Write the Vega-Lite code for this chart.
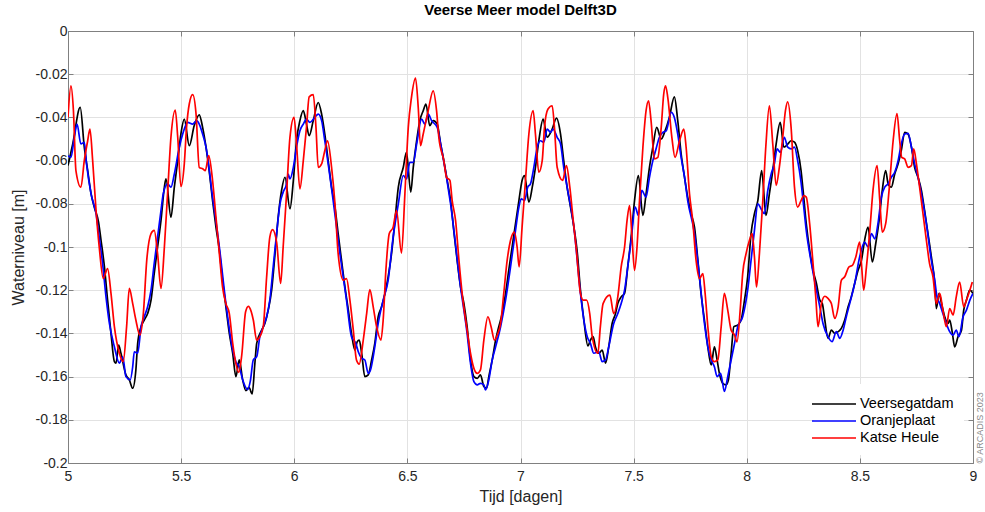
{
"$schema": "https://vega.github.io/schema/vega-lite/v6.json",
"width": 905, "height": 432,
"autosize": {"type": "none"},
"padding": {"left": 68, "top": 31, "right": 12, "bottom": 49},
"background": "white",
"config": {"view": {"stroke": null}, "font": "Liberation Sans"},
"title": {"text": "Veerse Meer model Delft3D", "fontSize": 15, "fontWeight": "bold", "font": "Liberation Sans", "color": "#000000", "offset": 6, "anchor": "middle"},
"layer": [
{
"data": {"values": [
{"t":5.0,"v":-0.0623,"s":"Veersegatdam"},{"t":5.021,"v":-0.0523,"s":"Veersegatdam"},{"t":5.054,"v":-0.0354,"s":"Veersegatdam"},{"t":5.072,"v":-0.0538,"s":"Veersegatdam"},{"t":5.087,"v":-0.0646,"s":"Veersegatdam"},{"t":5.102,"v":-0.0754,"s":"Veersegatdam"},{"t":5.116,"v":-0.0815,"s":"Veersegatdam"},{"t":5.135,"v":-0.0885,"s":"Veersegatdam"},{"t":5.146,"v":-0.0969,"s":"Veersegatdam"},{"t":5.161,"v":-0.1092,"s":"Veersegatdam"},{"t":5.175,"v":-0.1246,"s":"Veersegatdam"},{"t":5.19,"v":-0.140,"s":"Veersegatdam"},{"t":5.205,"v":-0.1531,"s":"Veersegatdam"},{"t":5.212,"v":-0.1538,"s":"Veersegatdam"},{"t":5.224,"v":-0.1454,"s":"Veersegatdam"},{"t":5.234,"v":-0.1492,"s":"Veersegatdam"},{"t":5.256,"v":-0.1592,"s":"Veersegatdam"},{"t":5.271,"v":-0.1615,"s":"Veersegatdam"},{"t":5.286,"v":-0.1654,"s":"Veersegatdam"},{"t":5.3,"v":-0.1569,"s":"Veersegatdam"},{"t":5.308,"v":-0.1446,"s":"Veersegatdam"},{"t":5.323,"v":-0.1369,"s":"Veersegatdam"},{"t":5.337,"v":-0.1338,"s":"Veersegatdam"},{"t":5.352,"v":-0.1308,"s":"Veersegatdam"},{"t":5.367,"v":-0.1246,"s":"Veersegatdam"},{"t":5.381,"v":-0.1123,"s":"Veersegatdam"},{"t":5.396,"v":-0.100,"s":"Veersegatdam"},{"t":5.411,"v":-0.0877,"s":"Veersegatdam"},{"t":5.426,"v":-0.0723,"s":"Veersegatdam"},{"t":5.433,"v":-0.0685,"s":"Veersegatdam"},{"t":5.455,"v":-0.0862,"s":"Veersegatdam"},{"t":5.47,"v":-0.0723,"s":"Veersegatdam"},{"t":5.485,"v":-0.060,"s":"Veersegatdam"},{"t":5.499,"v":-0.0477,"s":"Veersegatdam"},{"t":5.514,"v":-0.0408,"s":"Veersegatdam"},{"t":5.536,"v":-0.0531,"s":"Veersegatdam"},{"t":5.558,"v":-0.0438,"s":"Veersegatdam"},{"t":5.58,"v":-0.0388,"s":"Veersegatdam"},{"t":5.595,"v":-0.0446,"s":"Veersegatdam"},{"t":5.61,"v":-0.0538,"s":"Veersegatdam"},{"t":5.624,"v":-0.0646,"s":"Veersegatdam"},{"t":5.639,"v":-0.0785,"s":"Veersegatdam"},{"t":5.654,"v":-0.0908,"s":"Veersegatdam"},{"t":5.669,"v":-0.1015,"s":"Veersegatdam"},{"t":5.683,"v":-0.1154,"s":"Veersegatdam"},{"t":5.698,"v":-0.1277,"s":"Veersegatdam"},{"t":5.713,"v":-0.140,"s":"Veersegatdam"},{"t":5.728,"v":-0.1492,"s":"Veersegatdam"},{"t":5.742,"v":-0.160,"s":"Veersegatdam"},{"t":5.757,"v":-0.1523,"s":"Veersegatdam"},{"t":5.772,"v":-0.1615,"s":"Veersegatdam"},{"t":5.786,"v":-0.1665,"s":"Veersegatdam"},{"t":5.8,"v":-0.165,"s":"Veersegatdam"},{"t":5.814,"v":-0.168,"s":"Veersegatdam"},{"t":5.826,"v":-0.1538,"s":"Veersegatdam"},{"t":5.834,"v":-0.1446,"s":"Veersegatdam"},{"t":5.856,"v":-0.1385,"s":"Veersegatdam"},{"t":5.87,"v":-0.1354,"s":"Veersegatdam"},{"t":5.885,"v":-0.1292,"s":"Veersegatdam"},{"t":5.9,"v":-0.120,"s":"Veersegatdam"},{"t":5.915,"v":-0.1031,"s":"Veersegatdam"},{"t":5.929,"v":-0.0862,"s":"Veersegatdam"},{"t":5.944,"v":-0.0738,"s":"Veersegatdam"},{"t":5.959,"v":-0.0677,"s":"Veersegatdam"},{"t":5.981,"v":-0.0823,"s":"Veersegatdam"},{"t":5.996,"v":-0.0692,"s":"Veersegatdam"},{"t":6.01,"v":-0.0508,"s":"Veersegatdam"},{"t":6.025,"v":-0.0415,"s":"Veersegatdam"},{"t":6.04,"v":-0.0369,"s":"Veersegatdam"},{"t":6.054,"v":-0.0431,"s":"Veersegatdam"},{"t":6.066,"v":-0.0485,"s":"Veersegatdam"},{"t":6.084,"v":-0.0415,"s":"Veersegatdam"},{"t":6.106,"v":-0.0331,"s":"Veersegatdam"},{"t":6.121,"v":-0.0385,"s":"Veersegatdam"},{"t":6.135,"v":-0.0477,"s":"Veersegatdam"},{"t":6.15,"v":-0.060,"s":"Veersegatdam"},{"t":6.165,"v":-0.0723,"s":"Veersegatdam"},{"t":6.18,"v":-0.0815,"s":"Veersegatdam"},{"t":6.194,"v":-0.0938,"s":"Veersegatdam"},{"t":6.209,"v":-0.1062,"s":"Veersegatdam"},{"t":6.224,"v":-0.1185,"s":"Veersegatdam"},{"t":6.239,"v":-0.1292,"s":"Veersegatdam"},{"t":6.253,"v":-0.140,"s":"Veersegatdam"},{"t":6.268,"v":-0.1477,"s":"Veersegatdam"},{"t":6.278,"v":-0.1439,"s":"Veersegatdam"},{"t":6.287,"v":-0.1431,"s":"Veersegatdam"},{"t":6.298,"v":-0.1492,"s":"Veersegatdam"},{"t":6.312,"v":-0.160,"s":"Veersegatdam"},{"t":6.327,"v":-0.1592,"s":"Veersegatdam"},{"t":6.342,"v":-0.1523,"s":"Veersegatdam"},{"t":6.356,"v":-0.1446,"s":"Veersegatdam"},{"t":6.371,"v":-0.1323,"s":"Veersegatdam"},{"t":6.386,"v":-0.1277,"s":"Veersegatdam"},{"t":6.401,"v":-0.1215,"s":"Veersegatdam"},{"t":6.415,"v":-0.1138,"s":"Veersegatdam"},{"t":6.43,"v":-0.1031,"s":"Veersegatdam"},{"t":6.445,"v":-0.0877,"s":"Veersegatdam"},{"t":6.46,"v":-0.0723,"s":"Veersegatdam"},{"t":6.482,"v":-0.0631,"s":"Veersegatdam"},{"t":6.496,"v":-0.0562,"s":"Veersegatdam"},{"t":6.515,"v":-0.0746,"s":"Veersegatdam"},{"t":6.526,"v":-0.0631,"s":"Veersegatdam"},{"t":6.541,"v":-0.0508,"s":"Veersegatdam"},{"t":6.555,"v":-0.0415,"s":"Veersegatdam"},{"t":6.57,"v":-0.0369,"s":"Veersegatdam"},{"t":6.582,"v":-0.0338,"s":"Veersegatdam"},{"t":6.599,"v":-0.0438,"s":"Veersegatdam"},{"t":6.614,"v":-0.0415,"s":"Veersegatdam"},{"t":6.632,"v":-0.0431,"s":"Veersegatdam"},{"t":6.647,"v":-0.0523,"s":"Veersegatdam"},{"t":6.661,"v":-0.060,"s":"Veersegatdam"},{"t":6.676,"v":-0.0692,"s":"Veersegatdam"},{"t":6.691,"v":-0.0785,"s":"Veersegatdam"},{"t":6.705,"v":-0.0923,"s":"Veersegatdam"},{"t":6.72,"v":-0.1062,"s":"Veersegatdam"},{"t":6.735,"v":-0.1185,"s":"Veersegatdam"},{"t":6.75,"v":-0.1262,"s":"Veersegatdam"},{"t":6.764,"v":-0.1369,"s":"Veersegatdam"},{"t":6.779,"v":-0.1523,"s":"Veersegatdam"},{"t":6.794,"v":-0.160,"s":"Veersegatdam"},{"t":6.809,"v":-0.1608,"s":"Veersegatdam"},{"t":6.823,"v":-0.1592,"s":"Veersegatdam"},{"t":6.838,"v":-0.1646,"s":"Veersegatdam"},{"t":6.85,"v":-0.1654,"s":"Veersegatdam"},{"t":6.86,"v":-0.160,"s":"Veersegatdam"},{"t":6.875,"v":-0.1523,"s":"Veersegatdam"},{"t":6.89,"v":-0.1431,"s":"Veersegatdam"},{"t":6.904,"v":-0.1369,"s":"Veersegatdam"},{"t":6.919,"v":-0.1308,"s":"Veersegatdam"},{"t":6.934,"v":-0.1215,"s":"Veersegatdam"},{"t":6.948,"v":-0.1108,"s":"Veersegatdam"},{"t":6.963,"v":-0.100,"s":"Veersegatdam"},{"t":6.978,"v":-0.0892,"s":"Veersegatdam"},{"t":6.993,"v":-0.0785,"s":"Veersegatdam"},{"t":7.007,"v":-0.0692,"s":"Veersegatdam"},{"t":7.018,"v":-0.0669,"s":"Veersegatdam"},{"t":7.037,"v":-0.0792,"s":"Veersegatdam"},{"t":7.052,"v":-0.0723,"s":"Veersegatdam"},{"t":7.066,"v":-0.0631,"s":"Veersegatdam"},{"t":7.081,"v":-0.0508,"s":"Veersegatdam"},{"t":7.1,"v":-0.0408,"s":"Veersegatdam"},{"t":7.118,"v":-0.0492,"s":"Veersegatdam"},{"t":7.14,"v":-0.0454,"s":"Veersegatdam"},{"t":7.159,"v":-0.0403,"s":"Veersegatdam"},{"t":7.177,"v":-0.0477,"s":"Veersegatdam"},{"t":7.191,"v":-0.060,"s":"Veersegatdam"},{"t":7.206,"v":-0.0723,"s":"Veersegatdam"},{"t":7.221,"v":-0.0815,"s":"Veersegatdam"},{"t":7.236,"v":-0.0908,"s":"Veersegatdam"},{"t":7.25,"v":-0.1015,"s":"Veersegatdam"},{"t":7.265,"v":-0.120,"s":"Veersegatdam"},{"t":7.28,"v":-0.1338,"s":"Veersegatdam"},{"t":7.298,"v":-0.1458,"s":"Veersegatdam"},{"t":7.309,"v":-0.1431,"s":"Veersegatdam"},{"t":7.321,"v":-0.1415,"s":"Veersegatdam"},{"t":7.331,"v":-0.1462,"s":"Veersegatdam"},{"t":7.346,"v":-0.1492,"s":"Veersegatdam"},{"t":7.361,"v":-0.1477,"s":"Veersegatdam"},{"t":7.376,"v":-0.1538,"s":"Veersegatdam"},{"t":7.39,"v":-0.1462,"s":"Veersegatdam"},{"t":7.405,"v":-0.1354,"s":"Veersegatdam"},{"t":7.42,"v":-0.1308,"s":"Veersegatdam"},{"t":7.43,"v":-0.1262,"s":"Veersegatdam"},{"t":7.445,"v":-0.1231,"s":"Veersegatdam"},{"t":7.46,"v":-0.1215,"s":"Veersegatdam"},{"t":7.474,"v":-0.1092,"s":"Veersegatdam"},{"t":7.489,"v":-0.0954,"s":"Veersegatdam"},{"t":7.504,"v":-0.0785,"s":"Veersegatdam"},{"t":7.521,"v":-0.0669,"s":"Veersegatdam"},{"t":7.541,"v":-0.0854,"s":"Veersegatdam"},{"t":7.555,"v":-0.0754,"s":"Veersegatdam"},{"t":7.57,"v":-0.0631,"s":"Veersegatdam"},{"t":7.585,"v":-0.0538,"s":"Veersegatdam"},{"t":7.602,"v":-0.0446,"s":"Veersegatdam"},{"t":7.622,"v":-0.050,"s":"Veersegatdam"},{"t":7.639,"v":-0.0462,"s":"Veersegatdam"},{"t":7.658,"v":-0.040,"s":"Veersegatdam"},{"t":7.68,"v":-0.0305,"s":"Veersegatdam"},{"t":7.695,"v":-0.0415,"s":"Veersegatdam"},{"t":7.71,"v":-0.0569,"s":"Veersegatdam"},{"t":7.725,"v":-0.0677,"s":"Veersegatdam"},{"t":7.739,"v":-0.0769,"s":"Veersegatdam"},{"t":7.754,"v":-0.0846,"s":"Veersegatdam"},{"t":7.769,"v":-0.0908,"s":"Veersegatdam"},{"t":7.784,"v":-0.1062,"s":"Veersegatdam"},{"t":7.798,"v":-0.1215,"s":"Veersegatdam"},{"t":7.813,"v":-0.1338,"s":"Veersegatdam"},{"t":7.828,"v":-0.1462,"s":"Veersegatdam"},{"t":7.843,"v":-0.1546,"s":"Veersegatdam"},{"t":7.857,"v":-0.1462,"s":"Veersegatdam"},{"t":7.869,"v":-0.1523,"s":"Veersegatdam"},{"t":7.879,"v":-0.1585,"s":"Veersegatdam"},{"t":7.894,"v":-0.1631,"s":"Veersegatdam"},{"t":7.909,"v":-0.1638,"s":"Veersegatdam"},{"t":7.919,"v":-0.1615,"s":"Veersegatdam"},{"t":7.931,"v":-0.1492,"s":"Veersegatdam"},{"t":7.943,"v":-0.1369,"s":"Veersegatdam"},{"t":7.96,"v":-0.1362,"s":"Veersegatdam"},{"t":7.975,"v":-0.1338,"s":"Veersegatdam"},{"t":7.99,"v":-0.1246,"s":"Veersegatdam"},{"t":8.004,"v":-0.1138,"s":"Veersegatdam"},{"t":8.019,"v":-0.0938,"s":"Veersegatdam"},{"t":8.034,"v":-0.0846,"s":"Veersegatdam"},{"t":8.049,"v":-0.0785,"s":"Veersegatdam"},{"t":8.066,"v":-0.0646,"s":"Veersegatdam"},{"t":8.085,"v":-0.0854,"s":"Veersegatdam"},{"t":8.1,"v":-0.0754,"s":"Veersegatdam"},{"t":8.115,"v":-0.0646,"s":"Veersegatdam"},{"t":8.13,"v":-0.0523,"s":"Veersegatdam"},{"t":8.148,"v":-0.0423,"s":"Veersegatdam"},{"t":8.164,"v":-0.0538,"s":"Veersegatdam"},{"t":8.182,"v":-0.0523,"s":"Veersegatdam"},{"t":8.196,"v":-0.0508,"s":"Veersegatdam"},{"t":8.211,"v":-0.0515,"s":"Veersegatdam"},{"t":8.225,"v":-0.0554,"s":"Veersegatdam"},{"t":8.24,"v":-0.0646,"s":"Veersegatdam"},{"t":8.249,"v":-0.0738,"s":"Veersegatdam"},{"t":8.263,"v":-0.0892,"s":"Veersegatdam"},{"t":8.278,"v":-0.1015,"s":"Veersegatdam"},{"t":8.293,"v":-0.1108,"s":"Veersegatdam"},{"t":8.308,"v":-0.1169,"s":"Veersegatdam"},{"t":8.323,"v":-0.1246,"s":"Veersegatdam"},{"t":8.334,"v":-0.1262,"s":"Veersegatdam"},{"t":8.345,"v":-0.1338,"s":"Veersegatdam"},{"t":8.359,"v":-0.1423,"s":"Veersegatdam"},{"t":8.374,"v":-0.1385,"s":"Veersegatdam"},{"t":8.389,"v":-0.140,"s":"Veersegatdam"},{"t":8.404,"v":-0.1392,"s":"Veersegatdam"},{"t":8.418,"v":-0.1377,"s":"Veersegatdam"},{"t":8.433,"v":-0.1338,"s":"Veersegatdam"},{"t":8.448,"v":-0.1277,"s":"Veersegatdam"},{"t":8.462,"v":-0.1231,"s":"Veersegatdam"},{"t":8.477,"v":-0.1169,"s":"Veersegatdam"},{"t":8.492,"v":-0.1108,"s":"Veersegatdam"},{"t":8.507,"v":-0.1062,"s":"Veersegatdam"},{"t":8.521,"v":-0.0969,"s":"Veersegatdam"},{"t":8.536,"v":-0.0908,"s":"Veersegatdam"},{"t":8.555,"v":-0.1069,"s":"Veersegatdam"},{"t":8.57,"v":-0.0985,"s":"Veersegatdam"},{"t":8.585,"v":-0.0877,"s":"Veersegatdam"},{"t":8.599,"v":-0.0738,"s":"Veersegatdam"},{"t":8.614,"v":-0.0646,"s":"Veersegatdam"},{"t":8.625,"v":-0.0708,"s":"Veersegatdam"},{"t":8.639,"v":-0.0723,"s":"Veersegatdam"},{"t":8.654,"v":-0.0662,"s":"Veersegatdam"},{"t":8.669,"v":-0.0615,"s":"Veersegatdam"},{"t":8.683,"v":-0.0554,"s":"Veersegatdam"},{"t":8.698,"v":-0.0469,"s":"Veersegatdam"},{"t":8.713,"v":-0.0477,"s":"Veersegatdam"},{"t":8.728,"v":-0.0538,"s":"Veersegatdam"},{"t":8.742,"v":-0.0631,"s":"Veersegatdam"},{"t":8.757,"v":-0.0677,"s":"Veersegatdam"},{"t":8.772,"v":-0.0738,"s":"Veersegatdam"},{"t":8.786,"v":-0.0831,"s":"Veersegatdam"},{"t":8.801,"v":-0.0938,"s":"Veersegatdam"},{"t":8.816,"v":-0.1046,"s":"Veersegatdam"},{"t":8.831,"v":-0.1169,"s":"Veersegatdam"},{"t":8.838,"v":-0.1285,"s":"Veersegatdam"},{"t":8.85,"v":-0.1215,"s":"Veersegatdam"},{"t":8.861,"v":-0.1262,"s":"Veersegatdam"},{"t":8.875,"v":-0.1323,"s":"Veersegatdam"},{"t":8.89,"v":-0.1354,"s":"Veersegatdam"},{"t":8.897,"v":-0.1338,"s":"Veersegatdam"},{"t":8.909,"v":-0.140,"s":"Veersegatdam"},{"t":8.919,"v":-0.1462,"s":"Veersegatdam"},{"t":8.934,"v":-0.1415,"s":"Veersegatdam"},{"t":8.949,"v":-0.1385,"s":"Veersegatdam"},{"t":8.959,"v":-0.1292,"s":"Veersegatdam"},{"t":8.971,"v":-0.1246,"s":"Veersegatdam"},{"t":8.986,"v":-0.120,"s":"Veersegatdam"},{"t":9.0,"v":-0.1215,"s":"Veersegatdam"},
{"t":5.0,"v":-0.0577,"s":"Oranjeplaat"},{"t":5.013,"v":-0.0585,"s":"Oranjeplaat"},{"t":5.028,"v":-0.0492,"s":"Oranjeplaat"},{"t":5.04,"v":-0.0431,"s":"Oranjeplaat"},{"t":5.057,"v":-0.0523,"s":"Oranjeplaat"},{"t":5.072,"v":-0.0515,"s":"Oranjeplaat"},{"t":5.082,"v":-0.0615,"s":"Oranjeplaat"},{"t":5.102,"v":-0.0754,"s":"Oranjeplaat"},{"t":5.124,"v":-0.0846,"s":"Oranjeplaat"},{"t":5.138,"v":-0.0954,"s":"Oranjeplaat"},{"t":5.153,"v":-0.1077,"s":"Oranjeplaat"},{"t":5.168,"v":-0.1231,"s":"Oranjeplaat"},{"t":5.183,"v":-0.1354,"s":"Oranjeplaat"},{"t":5.205,"v":-0.1462,"s":"Oranjeplaat"},{"t":5.227,"v":-0.1538,"s":"Oranjeplaat"},{"t":5.242,"v":-0.1508,"s":"Oranjeplaat"},{"t":5.256,"v":-0.160,"s":"Oranjeplaat"},{"t":5.275,"v":-0.1615,"s":"Oranjeplaat"},{"t":5.286,"v":-0.1554,"s":"Oranjeplaat"},{"t":5.293,"v":-0.1485,"s":"Oranjeplaat"},{"t":5.308,"v":-0.1492,"s":"Oranjeplaat"},{"t":5.323,"v":-0.1369,"s":"Oranjeplaat"},{"t":5.337,"v":-0.1323,"s":"Oranjeplaat"},{"t":5.352,"v":-0.1277,"s":"Oranjeplaat"},{"t":5.367,"v":-0.120,"s":"Oranjeplaat"},{"t":5.381,"v":-0.1077,"s":"Oranjeplaat"},{"t":5.396,"v":-0.0954,"s":"Oranjeplaat"},{"t":5.411,"v":-0.0831,"s":"Oranjeplaat"},{"t":5.421,"v":-0.0754,"s":"Oranjeplaat"},{"t":5.44,"v":-0.0708,"s":"Oranjeplaat"},{"t":5.455,"v":-0.0723,"s":"Oranjeplaat"},{"t":5.47,"v":-0.0662,"s":"Oranjeplaat"},{"t":5.492,"v":-0.0538,"s":"Oranjeplaat"},{"t":5.507,"v":-0.0477,"s":"Oranjeplaat"},{"t":5.529,"v":-0.0423,"s":"Oranjeplaat"},{"t":5.551,"v":-0.0431,"s":"Oranjeplaat"},{"t":5.569,"v":-0.0415,"s":"Oranjeplaat"},{"t":5.58,"v":-0.0431,"s":"Oranjeplaat"},{"t":5.595,"v":-0.0477,"s":"Oranjeplaat"},{"t":5.61,"v":-0.0538,"s":"Oranjeplaat"},{"t":5.639,"v":-0.0769,"s":"Oranjeplaat"},{"t":5.669,"v":-0.100,"s":"Oranjeplaat"},{"t":5.698,"v":-0.1262,"s":"Oranjeplaat"},{"t":5.728,"v":-0.1477,"s":"Oranjeplaat"},{"t":5.742,"v":-0.1531,"s":"Oranjeplaat"},{"t":5.757,"v":-0.1554,"s":"Oranjeplaat"},{"t":5.772,"v":-0.1615,"s":"Oranjeplaat"},{"t":5.794,"v":-0.166,"s":"Oranjeplaat"},{"t":5.806,"v":-0.162,"s":"Oranjeplaat"},{"t":5.819,"v":-0.1523,"s":"Oranjeplaat"},{"t":5.834,"v":-0.1508,"s":"Oranjeplaat"},{"t":5.848,"v":-0.1415,"s":"Oranjeplaat"},{"t":5.863,"v":-0.1369,"s":"Oranjeplaat"},{"t":5.878,"v":-0.1323,"s":"Oranjeplaat"},{"t":5.892,"v":-0.1246,"s":"Oranjeplaat"},{"t":5.907,"v":-0.1092,"s":"Oranjeplaat"},{"t":5.922,"v":-0.0938,"s":"Oranjeplaat"},{"t":5.937,"v":-0.080,"s":"Oranjeplaat"},{"t":5.951,"v":-0.0746,"s":"Oranjeplaat"},{"t":5.966,"v":-0.0708,"s":"Oranjeplaat"},{"t":5.973,"v":-0.0662,"s":"Oranjeplaat"},{"t":5.981,"v":-0.0685,"s":"Oranjeplaat"},{"t":5.996,"v":-0.0631,"s":"Oranjeplaat"},{"t":6.01,"v":-0.0538,"s":"Oranjeplaat"},{"t":6.025,"v":-0.0462,"s":"Oranjeplaat"},{"t":6.04,"v":-0.0431,"s":"Oranjeplaat"},{"t":6.054,"v":-0.0408,"s":"Oranjeplaat"},{"t":6.069,"v":-0.0423,"s":"Oranjeplaat"},{"t":6.091,"v":-0.040,"s":"Oranjeplaat"},{"t":6.106,"v":-0.0385,"s":"Oranjeplaat"},{"t":6.121,"v":-0.0415,"s":"Oranjeplaat"},{"t":6.135,"v":-0.0508,"s":"Oranjeplaat"},{"t":6.172,"v":-0.0785,"s":"Oranjeplaat"},{"t":6.202,"v":-0.1031,"s":"Oranjeplaat"},{"t":6.231,"v":-0.1246,"s":"Oranjeplaat"},{"t":6.253,"v":-0.1415,"s":"Oranjeplaat"},{"t":6.272,"v":-0.1446,"s":"Oranjeplaat"},{"t":6.283,"v":-0.1485,"s":"Oranjeplaat"},{"t":6.298,"v":-0.1515,"s":"Oranjeplaat"},{"t":6.312,"v":-0.1523,"s":"Oranjeplaat"},{"t":6.327,"v":-0.1585,"s":"Oranjeplaat"},{"t":6.337,"v":-0.1569,"s":"Oranjeplaat"},{"t":6.356,"v":-0.1462,"s":"Oranjeplaat"},{"t":6.371,"v":-0.1354,"s":"Oranjeplaat"},{"t":6.393,"v":-0.1246,"s":"Oranjeplaat"},{"t":6.415,"v":-0.1154,"s":"Oranjeplaat"},{"t":6.437,"v":-0.0954,"s":"Oranjeplaat"},{"t":6.46,"v":-0.080,"s":"Oranjeplaat"},{"t":6.482,"v":-0.0669,"s":"Oranjeplaat"},{"t":6.496,"v":-0.0685,"s":"Oranjeplaat"},{"t":6.511,"v":-0.0608,"s":"Oranjeplaat"},{"t":6.526,"v":-0.0608,"s":"Oranjeplaat"},{"t":6.541,"v":-0.0523,"s":"Oranjeplaat"},{"t":6.563,"v":-0.0408,"s":"Oranjeplaat"},{"t":6.577,"v":-0.0431,"s":"Oranjeplaat"},{"t":6.592,"v":-0.0385,"s":"Oranjeplaat"},{"t":6.607,"v":-0.0415,"s":"Oranjeplaat"},{"t":6.632,"v":-0.0446,"s":"Oranjeplaat"},{"t":6.647,"v":-0.0523,"s":"Oranjeplaat"},{"t":6.691,"v":-0.080,"s":"Oranjeplaat"},{"t":6.735,"v":-0.1185,"s":"Oranjeplaat"},{"t":6.764,"v":-0.140,"s":"Oranjeplaat"},{"t":6.779,"v":-0.1538,"s":"Oranjeplaat"},{"t":6.794,"v":-0.1623,"s":"Oranjeplaat"},{"t":6.809,"v":-0.1638,"s":"Oranjeplaat"},{"t":6.823,"v":-0.1631,"s":"Oranjeplaat"},{"t":6.838,"v":-0.1638,"s":"Oranjeplaat"},{"t":6.845,"v":-0.1662,"s":"Oranjeplaat"},{"t":6.86,"v":-0.1615,"s":"Oranjeplaat"},{"t":6.875,"v":-0.1523,"s":"Oranjeplaat"},{"t":6.89,"v":-0.1462,"s":"Oranjeplaat"},{"t":6.912,"v":-0.1369,"s":"Oranjeplaat"},{"t":6.934,"v":-0.1246,"s":"Oranjeplaat"},{"t":6.956,"v":-0.1092,"s":"Oranjeplaat"},{"t":6.978,"v":-0.0923,"s":"Oranjeplaat"},{"t":6.993,"v":-0.0815,"s":"Oranjeplaat"},{"t":7.003,"v":-0.0777,"s":"Oranjeplaat"},{"t":7.018,"v":-0.0785,"s":"Oranjeplaat"},{"t":7.032,"v":-0.0723,"s":"Oranjeplaat"},{"t":7.044,"v":-0.0708,"s":"Oranjeplaat"},{"t":7.059,"v":-0.0631,"s":"Oranjeplaat"},{"t":7.074,"v":-0.0538,"s":"Oranjeplaat"},{"t":7.088,"v":-0.0508,"s":"Oranjeplaat"},{"t":7.103,"v":-0.0515,"s":"Oranjeplaat"},{"t":7.118,"v":-0.0454,"s":"Oranjeplaat"},{"t":7.133,"v":-0.0469,"s":"Oranjeplaat"},{"t":7.144,"v":-0.0454,"s":"Oranjeplaat"},{"t":7.162,"v":-0.0492,"s":"Oranjeplaat"},{"t":7.177,"v":-0.0523,"s":"Oranjeplaat"},{"t":7.191,"v":-0.0631,"s":"Oranjeplaat"},{"t":7.206,"v":-0.0723,"s":"Oranjeplaat"},{"t":7.236,"v":-0.0908,"s":"Oranjeplaat"},{"t":7.265,"v":-0.1215,"s":"Oranjeplaat"},{"t":7.28,"v":-0.1338,"s":"Oranjeplaat"},{"t":7.295,"v":-0.1415,"s":"Oranjeplaat"},{"t":7.309,"v":-0.1446,"s":"Oranjeplaat"},{"t":7.324,"v":-0.1492,"s":"Oranjeplaat"},{"t":7.346,"v":-0.1485,"s":"Oranjeplaat"},{"t":7.361,"v":-0.1531,"s":"Oranjeplaat"},{"t":7.376,"v":-0.1523,"s":"Oranjeplaat"},{"t":7.39,"v":-0.1462,"s":"Oranjeplaat"},{"t":7.412,"v":-0.1354,"s":"Oranjeplaat"},{"t":7.43,"v":-0.1308,"s":"Oranjeplaat"},{"t":7.445,"v":-0.1262,"s":"Oranjeplaat"},{"t":7.46,"v":-0.120,"s":"Oranjeplaat"},{"t":7.474,"v":-0.1092,"s":"Oranjeplaat"},{"t":7.489,"v":-0.0969,"s":"Oranjeplaat"},{"t":7.507,"v":-0.0815,"s":"Oranjeplaat"},{"t":7.521,"v":-0.0854,"s":"Oranjeplaat"},{"t":7.536,"v":-0.0738,"s":"Oranjeplaat"},{"t":7.555,"v":-0.0769,"s":"Oranjeplaat"},{"t":7.57,"v":-0.0677,"s":"Oranjeplaat"},{"t":7.585,"v":-0.060,"s":"Oranjeplaat"},{"t":7.599,"v":-0.0546,"s":"Oranjeplaat"},{"t":7.614,"v":-0.0492,"s":"Oranjeplaat"},{"t":7.629,"v":-0.0469,"s":"Oranjeplaat"},{"t":7.644,"v":-0.0462,"s":"Oranjeplaat"},{"t":7.666,"v":-0.0377,"s":"Oranjeplaat"},{"t":7.68,"v":-0.040,"s":"Oranjeplaat"},{"t":7.695,"v":-0.0477,"s":"Oranjeplaat"},{"t":7.71,"v":-0.0585,"s":"Oranjeplaat"},{"t":7.725,"v":-0.0677,"s":"Oranjeplaat"},{"t":7.739,"v":-0.0785,"s":"Oranjeplaat"},{"t":7.769,"v":-0.0938,"s":"Oranjeplaat"},{"t":7.791,"v":-0.1138,"s":"Oranjeplaat"},{"t":7.813,"v":-0.1354,"s":"Oranjeplaat"},{"t":7.828,"v":-0.1462,"s":"Oranjeplaat"},{"t":7.843,"v":-0.1523,"s":"Oranjeplaat"},{"t":7.857,"v":-0.1554,"s":"Oranjeplaat"},{"t":7.869,"v":-0.160,"s":"Oranjeplaat"},{"t":7.884,"v":-0.1585,"s":"Oranjeplaat"},{"t":7.891,"v":-0.1615,"s":"Oranjeplaat"},{"t":7.901,"v":-0.1669,"s":"Oranjeplaat"},{"t":7.916,"v":-0.160,"s":"Oranjeplaat"},{"t":7.931,"v":-0.1523,"s":"Oranjeplaat"},{"t":7.946,"v":-0.1446,"s":"Oranjeplaat"},{"t":7.96,"v":-0.1369,"s":"Oranjeplaat"},{"t":7.982,"v":-0.1323,"s":"Oranjeplaat"},{"t":8.004,"v":-0.120,"s":"Oranjeplaat"},{"t":8.019,"v":-0.1062,"s":"Oranjeplaat"},{"t":8.034,"v":-0.0923,"s":"Oranjeplaat"},{"t":8.049,"v":-0.080,"s":"Oranjeplaat"},{"t":8.063,"v":-0.0823,"s":"Oranjeplaat"},{"t":8.078,"v":-0.0846,"s":"Oranjeplaat"},{"t":8.093,"v":-0.0738,"s":"Oranjeplaat"},{"t":8.108,"v":-0.0662,"s":"Oranjeplaat"},{"t":8.122,"v":-0.0615,"s":"Oranjeplaat"},{"t":8.134,"v":-0.0546,"s":"Oranjeplaat"},{"t":8.149,"v":-0.0562,"s":"Oranjeplaat"},{"t":8.166,"v":-0.0492,"s":"Oranjeplaat"},{"t":8.181,"v":-0.0538,"s":"Oranjeplaat"},{"t":8.196,"v":-0.0546,"s":"Oranjeplaat"},{"t":8.211,"v":-0.0538,"s":"Oranjeplaat"},{"t":8.225,"v":-0.060,"s":"Oranjeplaat"},{"t":8.24,"v":-0.070,"s":"Oranjeplaat"},{"t":8.249,"v":-0.0785,"s":"Oranjeplaat"},{"t":8.263,"v":-0.0923,"s":"Oranjeplaat"},{"t":8.286,"v":-0.1077,"s":"Oranjeplaat"},{"t":8.308,"v":-0.120,"s":"Oranjeplaat"},{"t":8.323,"v":-0.1277,"s":"Oranjeplaat"},{"t":8.337,"v":-0.1354,"s":"Oranjeplaat"},{"t":8.359,"v":-0.1415,"s":"Oranjeplaat"},{"t":8.377,"v":-0.1438,"s":"Oranjeplaat"},{"t":8.396,"v":-0.1392,"s":"Oranjeplaat"},{"t":8.411,"v":-0.1423,"s":"Oranjeplaat"},{"t":8.426,"v":-0.1385,"s":"Oranjeplaat"},{"t":8.44,"v":-0.1323,"s":"Oranjeplaat"},{"t":8.455,"v":-0.1262,"s":"Oranjeplaat"},{"t":8.477,"v":-0.1169,"s":"Oranjeplaat"},{"t":8.499,"v":-0.1046,"s":"Oranjeplaat"},{"t":8.521,"v":-0.0977,"s":"Oranjeplaat"},{"t":8.536,"v":-0.100,"s":"Oranjeplaat"},{"t":8.551,"v":-0.0938,"s":"Oranjeplaat"},{"t":8.566,"v":-0.0962,"s":"Oranjeplaat"},{"t":8.58,"v":-0.0892,"s":"Oranjeplaat"},{"t":8.595,"v":-0.0769,"s":"Oranjeplaat"},{"t":8.61,"v":-0.0723,"s":"Oranjeplaat"},{"t":8.624,"v":-0.0708,"s":"Oranjeplaat"},{"t":8.639,"v":-0.0677,"s":"Oranjeplaat"},{"t":8.654,"v":-0.0654,"s":"Oranjeplaat"},{"t":8.669,"v":-0.060,"s":"Oranjeplaat"},{"t":8.683,"v":-0.0523,"s":"Oranjeplaat"},{"t":8.698,"v":-0.0477,"s":"Oranjeplaat"},{"t":8.713,"v":-0.0474,"s":"Oranjeplaat"},{"t":8.728,"v":-0.0538,"s":"Oranjeplaat"},{"t":8.742,"v":-0.0615,"s":"Oranjeplaat"},{"t":8.757,"v":-0.0677,"s":"Oranjeplaat"},{"t":8.772,"v":-0.0754,"s":"Oranjeplaat"},{"t":8.794,"v":-0.0892,"s":"Oranjeplaat"},{"t":8.816,"v":-0.1062,"s":"Oranjeplaat"},{"t":8.831,"v":-0.1154,"s":"Oranjeplaat"},{"t":8.841,"v":-0.1231,"s":"Oranjeplaat"},{"t":8.853,"v":-0.1262,"s":"Oranjeplaat"},{"t":8.867,"v":-0.1308,"s":"Oranjeplaat"},{"t":8.882,"v":-0.1354,"s":"Oranjeplaat"},{"t":8.897,"v":-0.1392,"s":"Oranjeplaat"},{"t":8.912,"v":-0.1408,"s":"Oranjeplaat"},{"t":8.926,"v":-0.1385,"s":"Oranjeplaat"},{"t":8.938,"v":-0.1415,"s":"Oranjeplaat"},{"t":8.956,"v":-0.1323,"s":"Oranjeplaat"},{"t":8.971,"v":-0.1292,"s":"Oranjeplaat"},{"t":8.986,"v":-0.1246,"s":"Oranjeplaat"},{"t":9.0,"v":-0.1215,"s":"Oranjeplaat"},
{"t":5.0,"v":-0.040,"s":"Katse Heule"},{"t":5.013,"v":-0.0254,"s":"Katse Heule"},{"t":5.024,"v":-0.0369,"s":"Katse Heule"},{"t":5.035,"v":-0.0646,"s":"Katse Heule"},{"t":5.057,"v":-0.0723,"s":"Katse Heule"},{"t":5.072,"v":-0.060,"s":"Katse Heule"},{"t":5.087,"v":-0.0508,"s":"Katse Heule"},{"t":5.097,"v":-0.0454,"s":"Katse Heule"},{"t":5.109,"v":-0.060,"s":"Katse Heule"},{"t":5.124,"v":-0.0831,"s":"Katse Heule"},{"t":5.138,"v":-0.100,"s":"Katse Heule"},{"t":5.156,"v":-0.1146,"s":"Katse Heule"},{"t":5.175,"v":-0.110,"s":"Katse Heule"},{"t":5.19,"v":-0.1215,"s":"Katse Heule"},{"t":5.205,"v":-0.1369,"s":"Katse Heule"},{"t":5.227,"v":-0.1492,"s":"Katse Heule"},{"t":5.244,"v":-0.1531,"s":"Katse Heule"},{"t":5.259,"v":-0.1369,"s":"Katse Heule"},{"t":5.271,"v":-0.1192,"s":"Katse Heule"},{"t":5.286,"v":-0.1262,"s":"Katse Heule"},{"t":5.3,"v":-0.1338,"s":"Katse Heule"},{"t":5.318,"v":-0.1408,"s":"Katse Heule"},{"t":5.333,"v":-0.1308,"s":"Katse Heule"},{"t":5.348,"v":-0.1062,"s":"Katse Heule"},{"t":5.367,"v":-0.0938,"s":"Katse Heule"},{"t":5.381,"v":-0.0923,"s":"Katse Heule"},{"t":5.396,"v":-0.1031,"s":"Katse Heule"},{"t":5.411,"v":-0.1192,"s":"Katse Heule"},{"t":5.426,"v":-0.100,"s":"Katse Heule"},{"t":5.44,"v":-0.0754,"s":"Katse Heule"},{"t":5.455,"v":-0.0492,"s":"Katse Heule"},{"t":5.474,"v":-0.0366,"s":"Katse Heule"},{"t":5.485,"v":-0.0492,"s":"Katse Heule"},{"t":5.499,"v":-0.072,"s":"Katse Heule"},{"t":5.514,"v":-0.0615,"s":"Katse Heule"},{"t":5.524,"v":-0.0446,"s":"Katse Heule"},{"t":5.536,"v":-0.0338,"s":"Katse Heule"},{"t":5.551,"v":-0.0295,"s":"Katse Heule"},{"t":5.566,"v":-0.0385,"s":"Katse Heule"},{"t":5.58,"v":-0.0631,"s":"Katse Heule"},{"t":5.595,"v":-0.0638,"s":"Katse Heule"},{"t":5.607,"v":-0.0646,"s":"Katse Heule"},{"t":5.622,"v":-0.0577,"s":"Katse Heule"},{"t":5.639,"v":-0.0692,"s":"Katse Heule"},{"t":5.654,"v":-0.0862,"s":"Katse Heule"},{"t":5.669,"v":-0.1031,"s":"Katse Heule"},{"t":5.683,"v":-0.1185,"s":"Katse Heule"},{"t":5.698,"v":-0.1262,"s":"Katse Heule"},{"t":5.713,"v":-0.1308,"s":"Katse Heule"},{"t":5.728,"v":-0.1446,"s":"Katse Heule"},{"t":5.742,"v":-0.154,"s":"Katse Heule"},{"t":5.755,"v":-0.158,"s":"Katse Heule"},{"t":5.768,"v":-0.150,"s":"Katse Heule"},{"t":5.785,"v":-0.130,"s":"Katse Heule"},{"t":5.797,"v":-0.1275,"s":"Katse Heule"},{"t":5.81,"v":-0.130,"s":"Katse Heule"},{"t":5.819,"v":-0.1338,"s":"Katse Heule"},{"t":5.834,"v":-0.1431,"s":"Katse Heule"},{"t":5.848,"v":-0.1415,"s":"Katse Heule"},{"t":5.863,"v":-0.1369,"s":"Katse Heule"},{"t":5.878,"v":-0.1138,"s":"Katse Heule"},{"t":5.892,"v":-0.0954,"s":"Katse Heule"},{"t":5.904,"v":-0.092,"s":"Katse Heule"},{"t":5.922,"v":-0.0977,"s":"Katse Heule"},{"t":5.94,"v":-0.1169,"s":"Katse Heule"},{"t":5.951,"v":-0.100,"s":"Katse Heule"},{"t":5.966,"v":-0.0754,"s":"Katse Heule"},{"t":5.981,"v":-0.0492,"s":"Katse Heule"},{"t":5.999,"v":-0.040,"s":"Katse Heule"},{"t":6.01,"v":-0.0523,"s":"Katse Heule"},{"t":6.025,"v":-0.0731,"s":"Katse Heule"},{"t":6.04,"v":-0.060,"s":"Katse Heule"},{"t":6.054,"v":-0.0446,"s":"Katse Heule"},{"t":6.066,"v":-0.0305,"s":"Katse Heule"},{"t":6.084,"v":-0.0295,"s":"Katse Heule"},{"t":6.096,"v":-0.0446,"s":"Katse Heule"},{"t":6.106,"v":-0.0631,"s":"Katse Heule"},{"t":6.121,"v":-0.0615,"s":"Katse Heule"},{"t":6.135,"v":-0.0554,"s":"Katse Heule"},{"t":6.147,"v":-0.0508,"s":"Katse Heule"},{"t":6.165,"v":-0.0631,"s":"Katse Heule"},{"t":6.18,"v":-0.080,"s":"Katse Heule"},{"t":6.194,"v":-0.1031,"s":"Katse Heule"},{"t":6.217,"v":-0.1154,"s":"Katse Heule"},{"t":6.231,"v":-0.1146,"s":"Katse Heule"},{"t":6.246,"v":-0.1246,"s":"Katse Heule"},{"t":6.261,"v":-0.1385,"s":"Katse Heule"},{"t":6.275,"v":-0.1523,"s":"Katse Heule"},{"t":6.287,"v":-0.1542,"s":"Katse Heule"},{"t":6.305,"v":-0.1431,"s":"Katse Heule"},{"t":6.32,"v":-0.1308,"s":"Katse Heule"},{"t":6.334,"v":-0.1197,"s":"Katse Heule"},{"t":6.349,"v":-0.1277,"s":"Katse Heule"},{"t":6.364,"v":-0.1369,"s":"Katse Heule"},{"t":6.383,"v":-0.1431,"s":"Katse Heule"},{"t":6.393,"v":-0.1338,"s":"Katse Heule"},{"t":6.405,"v":-0.1108,"s":"Katse Heule"},{"t":6.42,"v":-0.0938,"s":"Katse Heule"},{"t":6.437,"v":-0.0908,"s":"Katse Heule"},{"t":6.452,"v":-0.0831,"s":"Katse Heule"},{"t":6.474,"v":-0.1028,"s":"Katse Heule"},{"t":6.489,"v":-0.0754,"s":"Katse Heule"},{"t":6.504,"v":-0.0446,"s":"Katse Heule"},{"t":6.518,"v":-0.0308,"s":"Katse Heule"},{"t":6.536,"v":-0.0218,"s":"Katse Heule"},{"t":6.548,"v":-0.0354,"s":"Katse Heule"},{"t":6.558,"v":-0.0531,"s":"Katse Heule"},{"t":6.57,"v":-0.0477,"s":"Katse Heule"},{"t":6.592,"v":-0.0369,"s":"Katse Heule"},{"t":6.614,"v":-0.0277,"s":"Katse Heule"},{"t":6.629,"v":-0.0369,"s":"Katse Heule"},{"t":6.639,"v":-0.0492,"s":"Katse Heule"},{"t":6.661,"v":-0.060,"s":"Katse Heule"},{"t":6.673,"v":-0.0677,"s":"Katse Heule"},{"t":6.688,"v":-0.0692,"s":"Katse Heule"},{"t":6.698,"v":-0.0785,"s":"Katse Heule"},{"t":6.713,"v":-0.0877,"s":"Katse Heule"},{"t":6.728,"v":-0.1062,"s":"Katse Heule"},{"t":6.742,"v":-0.1215,"s":"Katse Heule"},{"t":6.764,"v":-0.1385,"s":"Katse Heule"},{"t":6.779,"v":-0.1492,"s":"Katse Heule"},{"t":6.794,"v":-0.1562,"s":"Katse Heule"},{"t":6.809,"v":-0.1585,"s":"Katse Heule"},{"t":6.823,"v":-0.1569,"s":"Katse Heule"},{"t":6.838,"v":-0.1431,"s":"Katse Heule"},{"t":6.856,"v":-0.1323,"s":"Katse Heule"},{"t":6.87,"v":-0.1369,"s":"Katse Heule"},{"t":6.885,"v":-0.1431,"s":"Katse Heule"},{"t":6.9,"v":-0.140,"s":"Katse Heule"},{"t":6.912,"v":-0.1354,"s":"Katse Heule"},{"t":6.926,"v":-0.1215,"s":"Katse Heule"},{"t":6.941,"v":-0.1062,"s":"Katse Heule"},{"t":6.956,"v":-0.0969,"s":"Katse Heule"},{"t":6.973,"v":-0.0931,"s":"Katse Heule"},{"t":6.985,"v":-0.100,"s":"Katse Heule"},{"t":6.994,"v":-0.1092,"s":"Katse Heule"},{"t":7.007,"v":-0.0908,"s":"Katse Heule"},{"t":7.022,"v":-0.0692,"s":"Katse Heule"},{"t":7.037,"v":-0.0477,"s":"Katse Heule"},{"t":7.056,"v":-0.0369,"s":"Katse Heule"},{"t":7.066,"v":-0.0477,"s":"Katse Heule"},{"t":7.081,"v":-0.0654,"s":"Katse Heule"},{"t":7.096,"v":-0.060,"s":"Katse Heule"},{"t":7.106,"v":-0.0446,"s":"Katse Heule"},{"t":7.121,"v":-0.0362,"s":"Katse Heule"},{"t":7.14,"v":-0.0346,"s":"Katse Heule"},{"t":7.15,"v":-0.0446,"s":"Katse Heule"},{"t":7.162,"v":-0.0631,"s":"Katse Heule"},{"t":7.186,"v":-0.0692,"s":"Katse Heule"},{"t":7.203,"v":-0.0623,"s":"Katse Heule"},{"t":7.218,"v":-0.0723,"s":"Katse Heule"},{"t":7.233,"v":-0.0877,"s":"Katse Heule"},{"t":7.247,"v":-0.1015,"s":"Katse Heule"},{"t":7.265,"v":-0.1215,"s":"Katse Heule"},{"t":7.277,"v":-0.1246,"s":"Katse Heule"},{"t":7.292,"v":-0.1246,"s":"Katse Heule"},{"t":7.306,"v":-0.1308,"s":"Katse Heule"},{"t":7.317,"v":-0.1415,"s":"Katse Heule"},{"t":7.342,"v":-0.1492,"s":"Katse Heule"},{"t":7.353,"v":-0.1369,"s":"Katse Heule"},{"t":7.365,"v":-0.1262,"s":"Katse Heule"},{"t":7.395,"v":-0.1223,"s":"Katse Heule"},{"t":7.412,"v":-0.1308,"s":"Katse Heule"},{"t":7.43,"v":-0.1231,"s":"Katse Heule"},{"t":7.445,"v":-0.1092,"s":"Katse Heule"},{"t":7.46,"v":-0.100,"s":"Katse Heule"},{"t":7.471,"v":-0.0877,"s":"Katse Heule"},{"t":7.482,"v":-0.0808,"s":"Katse Heule"},{"t":7.492,"v":-0.0938,"s":"Katse Heule"},{"t":7.504,"v":-0.1108,"s":"Katse Heule"},{"t":7.515,"v":-0.100,"s":"Katse Heule"},{"t":7.526,"v":-0.0785,"s":"Katse Heule"},{"t":7.541,"v":-0.0538,"s":"Katse Heule"},{"t":7.555,"v":-0.0369,"s":"Katse Heule"},{"t":7.566,"v":-0.0323,"s":"Katse Heule"},{"t":7.577,"v":-0.0415,"s":"Katse Heule"},{"t":7.592,"v":-0.0592,"s":"Katse Heule"},{"t":7.607,"v":-0.0585,"s":"Katse Heule"},{"t":7.622,"v":-0.0446,"s":"Katse Heule"},{"t":7.633,"v":-0.0292,"s":"Katse Heule"},{"t":7.641,"v":-0.0254,"s":"Katse Heule"},{"t":7.651,"v":-0.0308,"s":"Katse Heule"},{"t":7.669,"v":-0.0492,"s":"Katse Heule"},{"t":7.683,"v":-0.0585,"s":"Katse Heule"},{"t":7.703,"v":-0.0508,"s":"Katse Heule"},{"t":7.722,"v":-0.0454,"s":"Katse Heule"},{"t":7.732,"v":-0.0538,"s":"Katse Heule"},{"t":7.747,"v":-0.0754,"s":"Katse Heule"},{"t":7.761,"v":-0.0877,"s":"Katse Heule"},{"t":7.776,"v":-0.1062,"s":"Katse Heule"},{"t":7.791,"v":-0.1146,"s":"Katse Heule"},{"t":7.806,"v":-0.1123,"s":"Katse Heule"},{"t":7.816,"v":-0.1215,"s":"Katse Heule"},{"t":7.828,"v":-0.1369,"s":"Katse Heule"},{"t":7.843,"v":-0.1508,"s":"Katse Heule"},{"t":7.857,"v":-0.1531,"s":"Katse Heule"},{"t":7.872,"v":-0.1523,"s":"Katse Heule"},{"t":7.887,"v":-0.1369,"s":"Katse Heule"},{"t":7.901,"v":-0.1215,"s":"Katse Heule"},{"t":7.916,"v":-0.1292,"s":"Katse Heule"},{"t":7.931,"v":-0.1385,"s":"Katse Heule"},{"t":7.946,"v":-0.1408,"s":"Katse Heule"},{"t":7.957,"v":-0.1439,"s":"Katse Heule"},{"t":7.972,"v":-0.1277,"s":"Katse Heule"},{"t":7.982,"v":-0.1123,"s":"Katse Heule"},{"t":7.997,"v":-0.1031,"s":"Katse Heule"},{"t":8.012,"v":-0.0969,"s":"Katse Heule"},{"t":8.024,"v":-0.0938,"s":"Katse Heule"},{"t":8.034,"v":-0.1046,"s":"Katse Heule"},{"t":8.043,"v":-0.1185,"s":"Katse Heule"},{"t":8.056,"v":-0.1031,"s":"Katse Heule"},{"t":8.071,"v":-0.0785,"s":"Katse Heule"},{"t":8.085,"v":-0.0523,"s":"Katse Heule"},{"t":8.1,"v":-0.0346,"s":"Katse Heule"},{"t":8.115,"v":-0.0523,"s":"Katse Heule"},{"t":8.13,"v":-0.0715,"s":"Katse Heule"},{"t":8.144,"v":-0.0631,"s":"Katse Heule"},{"t":8.159,"v":-0.0492,"s":"Katse Heule"},{"t":8.171,"v":-0.0369,"s":"Katse Heule"},{"t":8.181,"v":-0.0328,"s":"Katse Heule"},{"t":8.196,"v":-0.0446,"s":"Katse Heule"},{"t":8.211,"v":-0.0723,"s":"Katse Heule"},{"t":8.225,"v":-0.0815,"s":"Katse Heule"},{"t":8.24,"v":-0.0785,"s":"Katse Heule"},{"t":8.252,"v":-0.0762,"s":"Katse Heule"},{"t":8.263,"v":-0.0769,"s":"Katse Heule"},{"t":8.278,"v":-0.0892,"s":"Katse Heule"},{"t":8.293,"v":-0.1077,"s":"Katse Heule"},{"t":8.305,"v":-0.1231,"s":"Katse Heule"},{"t":8.315,"v":-0.1369,"s":"Katse Heule"},{"t":8.33,"v":-0.1262,"s":"Katse Heule"},{"t":8.345,"v":-0.1228,"s":"Katse Heule"},{"t":8.359,"v":-0.1238,"s":"Katse Heule"},{"t":8.374,"v":-0.1262,"s":"Katse Heule"},{"t":8.389,"v":-0.1331,"s":"Katse Heule"},{"t":8.404,"v":-0.1277,"s":"Katse Heule"},{"t":8.418,"v":-0.1154,"s":"Katse Heule"},{"t":8.433,"v":-0.1138,"s":"Katse Heule"},{"t":8.452,"v":-0.1092,"s":"Katse Heule"},{"t":8.467,"v":-0.1085,"s":"Katse Heule"},{"t":8.482,"v":-0.1046,"s":"Katse Heule"},{"t":8.499,"v":-0.0977,"s":"Katse Heule"},{"t":8.507,"v":-0.1077,"s":"Katse Heule"},{"t":8.517,"v":-0.120,"s":"Katse Heule"},{"t":8.529,"v":-0.1092,"s":"Katse Heule"},{"t":8.544,"v":-0.0923,"s":"Katse Heule"},{"t":8.558,"v":-0.0738,"s":"Katse Heule"},{"t":8.576,"v":-0.0623,"s":"Katse Heule"},{"t":8.588,"v":-0.0785,"s":"Katse Heule"},{"t":8.599,"v":-0.0931,"s":"Katse Heule"},{"t":8.614,"v":-0.0892,"s":"Katse Heule"},{"t":8.629,"v":-0.0738,"s":"Katse Heule"},{"t":8.647,"v":-0.0508,"s":"Katse Heule"},{"t":8.664,"v":-0.0382,"s":"Katse Heule"},{"t":8.676,"v":-0.0508,"s":"Katse Heule"},{"t":8.685,"v":-0.0585,"s":"Katse Heule"},{"t":8.698,"v":-0.0592,"s":"Katse Heule"},{"t":8.713,"v":-0.0631,"s":"Katse Heule"},{"t":8.728,"v":-0.0623,"s":"Katse Heule"},{"t":8.738,"v":-0.0546,"s":"Katse Heule"},{"t":8.75,"v":-0.0615,"s":"Katse Heule"},{"t":8.764,"v":-0.0723,"s":"Katse Heule"},{"t":8.779,"v":-0.0846,"s":"Katse Heule"},{"t":8.794,"v":-0.0969,"s":"Katse Heule"},{"t":8.808,"v":-0.1077,"s":"Katse Heule"},{"t":8.823,"v":-0.1138,"s":"Katse Heule"},{"t":8.838,"v":-0.1262,"s":"Katse Heule"},{"t":8.853,"v":-0.1215,"s":"Katse Heule"},{"t":8.867,"v":-0.1292,"s":"Katse Heule"},{"t":8.882,"v":-0.1369,"s":"Katse Heule"},{"t":8.897,"v":-0.1285,"s":"Katse Heule"},{"t":8.912,"v":-0.1315,"s":"Katse Heule"},{"t":8.926,"v":-0.1231,"s":"Katse Heule"},{"t":8.941,"v":-0.1162,"s":"Katse Heule"},{"t":8.959,"v":-0.1277,"s":"Katse Heule"},{"t":8.971,"v":-0.1246,"s":"Katse Heule"},{"t":8.986,"v":-0.120,"s":"Katse Heule"},{"t":8.997,"v":-0.1162,"s":"Katse Heule"}
]},
"mark": {"type": "line", "strokeWidth": 1.7, "interpolate": "monotone", "clip": true},
"encoding": {
"x": {"field": "t", "type": "quantitative", "scale": {"domain": [5, 9], "nice": false, "zero": false},
 "axis": {"orient": "bottom", "values": [5, 5.5, 6, 6.5, 7, 7.5, 8, 8.5, 9], "format": "~g", "title": "Tijd [dagen]", "grid": true, "gridColor": "#e2e2e2", "domainColor": "#808080", "tickColor": "#808080", "tickSize": -5, "labelFontSize": 14, "labelColor": "#262626", "labelPadding": 11, "labelFlush": false, "labelOverlap": false, "titleFontSize": 16, "titleFontWeight": "normal", "titleColor": "#262626", "titlePadding": 5, "labelFont": "Liberation Sans", "titleFont": "Liberation Sans"}},
"y": {"field": "v", "type": "quantitative", "scale": {"domain": [-0.2, 0], "nice": false, "zero": false},
 "axis": {"orient": "left", "values": [0, -0.02, -0.04, -0.06, -0.08, -0.1, -0.12, -0.14, -0.16, -0.18, -0.2], "labelExpr": "datum.value == 0 ? '0' : '-' + format(-datum.value, '~g')", "title": "Waterniveau [m]", "grid": true, "gridColor": "#e2e2e2", "domainColor": "#808080", "tickColor": "#808080", "tickSize": -5, "labelFontSize": 14, "labelColor": "#262626", "labelPadding": 6, "labelOverlap": false, "labelFlush": false, "titleFontSize": 16, "titleFontWeight": "normal", "titleColor": "#262626", "titlePadding": 9, "labelFont": "Liberation Sans", "titleFont": "Liberation Sans"}},
"color": {"field": "s", "type": "nominal", "scale": {"domain": ["Veersegatdam", "Oranjeplaat", "Katse Heule"], "range": ["#000000", "#0000ff", "#ff0000"]},
 "legend": {"orient": "none", "legendX": 746, "legendY": 353, "title": null, "symbolType": "M-2.444,0H2.444", "symbolSize": 324, "symbolStrokeWidth": 1.6, "symbolFillColor": "transparent", "labelFontSize": 14.5, "labelColor": "#000000", "labelFont": "Liberation Sans", "fillColor": "white", "padding": 10, "labelOffset": 16, "rowPadding": 0}}
}
},
{
"data": {"values": [{"t": 5, "v": -0.2}, {"t": 9, "v": 0}]},
"mark": {"type": "point", "opacity": 0},
"encoding": {
"x": {"field": "t", "type": "quantitative", "axis": {"orient": "top", "values": [5, 5.5, 6, 6.5, 7, 7.5, 8, 8.5, 9], "labels": false, "grid": false, "title": null, "domainColor": "#808080", "tickColor": "#808080", "tickSize": -5}},
"y": {"field": "v", "type": "quantitative", "axis": {"orient": "right", "values": [0, -0.02, -0.04, -0.06, -0.08, -0.1, -0.12, -0.14, -0.16, -0.18, -0.2], "labels": false, "grid": false, "domainColor": "#808080", "tickColor": "#808080", "tickSize": -5, "title": "© ARCADIS 2023", "titleFontSize": 9, "titleFontWeight": "normal", "titleColor": "#8a8a8a", "titleFont": "Liberation Sans", "titleAngle": 270, "titleAnchor": "start", "titleAlign": "left", "titleBaseline": "top", "titlePadding": 2}}
}
}
],
"resolve": {"axis": {"x": "independent", "y": "independent"}}
}
